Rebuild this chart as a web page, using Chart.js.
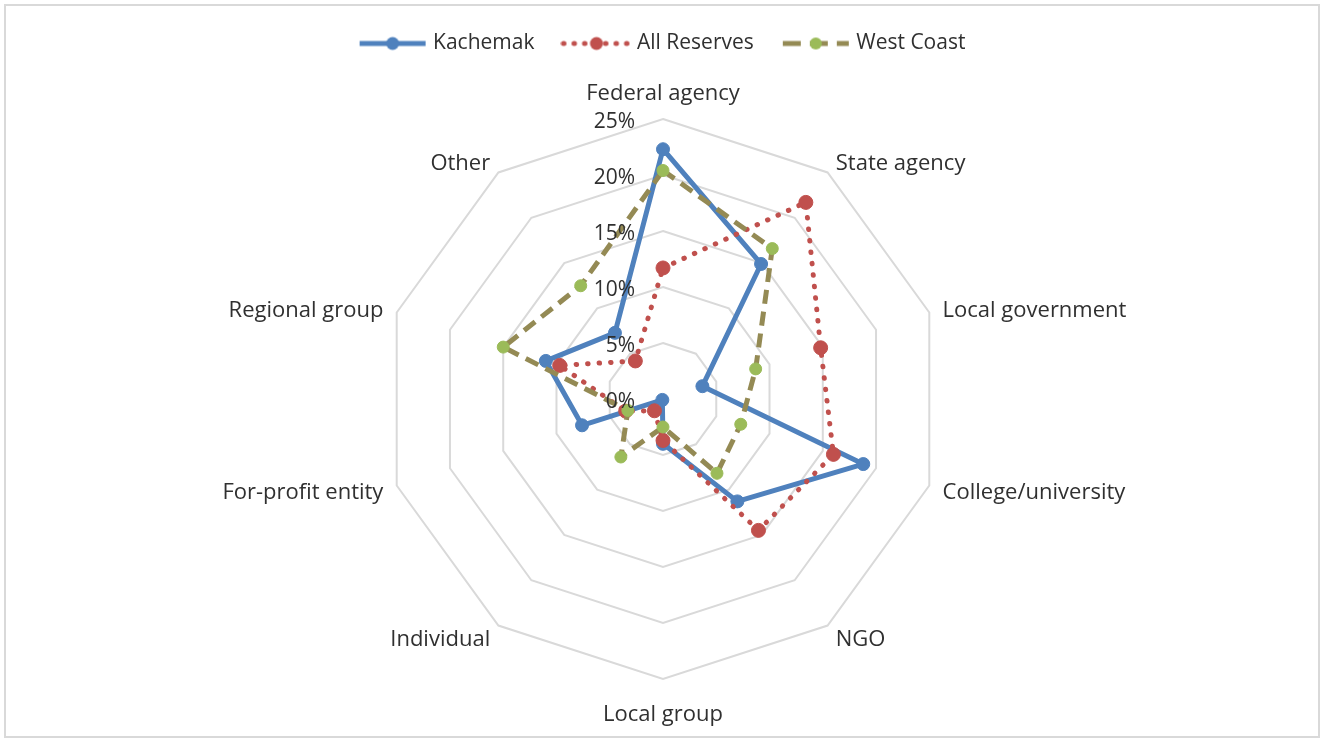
<!DOCTYPE html>
<html>
<head>
<meta charset="utf-8">
<script src="https://cdn.jsdelivr.net/npm/chart.js@4/dist/chart.umd.min.js"></script>
<style>
html,body{margin:0;padding:0;background:#fff;}
#wrap{position:relative;width:1322px;height:740px;overflow:hidden;}
#frame{position:absolute;left:4px;top:4px;width:1316px;height:734px;border:2px solid #d9d9d9;box-sizing:border-box;pointer-events:none;}
canvas{position:absolute;left:0;top:0;}
</style>
</head>
<body>
<div id="wrap"><canvas id="c" width="1322" height="740"></canvas><div id="frame"></div></div>
<script>
// ---- data (percent) ----
const categories = ['Federal agency','State agency','Local government','College/university','NGO','Local group','Individual','For-profit entity','Regional group','Other'];
const kachemak    = [22.3, 14.9,  3.7, 18.8, 11.3, 4.0, 0.1, 7.6, 11.0,  7.3];
const allReserves = [11.7, 21.7, 14.8, 16.0, 14.5, 3.7, 1.3, 3.5,  9.7,  4.2];
const westCoast   = [20.4, 16.6,  8.7,  7.3,  8.2, 2.5, 6.4, 3.3, 15.0, 12.5];
const seriesNames = ['Kachemak','All Reserves','West Coast'];
const tickMin = 0, tickMax = 25, tickStep = 5;

const FONT = '"Open Sans", "DejaVu Sans", sans-serif';
const TEXT = '#303030';
const GEOM = {cx: 663, cy: 399, r: 280, labelShiftY: 3};

// Radial scale with a fixed centre and radius (matches reference layout)
class FixedRadial extends Chart.RadialLinearScale {
  setCenterPoint() {
    this.xCenter = GEOM.cx;
    this.yCenter = GEOM.cy;
    this.drawingArea = GEOM.r;
  }
  fit() {
    super.fit();
    (this._pointLabelItems || []).forEach(it => {
      it.y += GEOM.labelShiftY; it.top += GEOM.labelShiftY; it.bottom += GEOM.labelShiftY;
    });
  }
}
FixedRadial.id = 'fixedRadial';
Chart.register(FixedRadial);

// legend icons: line sample + marker
function makeIcon(lineColor, markColor, dash, cap, rad) {
  const c = document.createElement('canvas');
  c.width = 72; c.height = 18;
  const x = c.getContext('2d');
  x.strokeStyle = lineColor; x.lineWidth = 5; x.lineCap = cap;
  x.setLineDash(dash);
  x.beginPath(); x.moveTo(3, 9); x.lineTo(69, 9); x.stroke();
  x.setLineDash([]);
  x.fillStyle = markColor;
  x.beginPath(); x.arc(36, 9, rad, 0, Math.PI * 2); x.fill();
  return c;
}
const icons = [
  makeIcon('#4f81bd', '#4f81bd', [], 'butt', 6.5),
  makeIcon('#c0504d', '#c0504d', [0.5, 10], 'round', 6.5),
  makeIcon('#948a54', '#9bbb59', [18, 9], 'butt', 6)
];

const tickLabelPlugin = {
  id: 'tickLabels',
  afterDatasetsDraw(chart) {
    const s = chart.scales.r;
    const ctx = chart.ctx;
    ctx.save();
    ctx.font = '21px ' + FONT;
    ctx.fillStyle = TEXT;
    ctx.textAlign = 'right';
    ctx.textBaseline = 'middle';
    s.ticks.forEach(t => {
      const d = s.getDistanceFromCenterForValue(t.value);
      ctx.fillText(t.value + '%', s.xCenter - 28, s.yCenter - d + 3);
    });
    ctx.restore();
  }
};

function draw() {
  new Chart(document.getElementById('c'), {
    type: 'radar',
    data: {
      labels: categories,
      datasets: [
        { label: seriesNames[0], data: kachemak, order: 3,
          borderColor: '#4f81bd', backgroundColor: '#4f81bd', borderWidth: 5,
          borderJoinStyle: 'round', fill: false,
          pointRadius: 6.5, pointBackgroundColor: '#4f81bd', pointBorderColor: '#4f81bd', pointBorderWidth: 1 },
        { label: seriesNames[1], data: allReserves, order: 2,
          borderColor: '#c0504d', backgroundColor: '#c0504d', borderWidth: 5,
          borderDash: [0.5, 11], borderCapStyle: 'round', fill: false,
          pointRadius: 7, pointBackgroundColor: '#c0504d', pointBorderColor: '#c0504d', pointBorderWidth: 1 },
        { label: seriesNames[2], data: westCoast, order: 1,
          borderColor: '#948a54', backgroundColor: '#9bbb59', borderWidth: 5,
          borderDash: [14, 8], borderCapStyle: 'butt', fill: false,
          pointRadius: 6, pointBackgroundColor: '#9bbb59', pointBorderColor: '#9bbb59', pointBorderWidth: 1 }
      ]
    },
    options: {
      responsive: false,
      animation: false,
      events: [],
      layout: { padding: { top: 1, left: 6, right: 0, bottom: 0 } },
      scales: {
        r: {
          type: 'fixedRadial',
          min: tickMin, max: tickMax,
          ticks: { stepSize: tickStep, display: false },
          grid: { color: '#d9d9d9', lineWidth: 2 },
          angleLines: { display: false },
          pointLabels: {
            color: TEXT,
            font: { family: FONT, size: 22, lineHeight: 0.01 },
            padding: (ctx) => ctx.index === 0 ? 28 : (ctx.index === 5 ? 33 : 14)
          }
        }
      },
      plugins: {
        tooltip: { enabled: false },
        legend: {
          position: 'top',
          labels: {
            usePointStyle: true,
            pointStyleWidth: 60,
            padding: 32,
            color: TEXT,
            font: { family: FONT, size: 21 },
            sort: (a, b) => a.datasetIndex - b.datasetIndex,
            generateLabels(chart) {
              const items = Chart.defaults.plugins.legend.labels.generateLabels(chart);
              items.forEach(it => { it.pointStyle = icons[it.datasetIndex]; });
              return items;
            }
          }
        }
      }
    },
    plugins: [tickLabelPlugin]
  });
}

if (document.fonts && document.fonts.load) {
  Promise.all([document.fonts.load('22px "Open Sans"'), document.fonts.load('21px "Open Sans"')]).then(draw, draw);
} else { draw(); }
</script>
</body>
</html>
